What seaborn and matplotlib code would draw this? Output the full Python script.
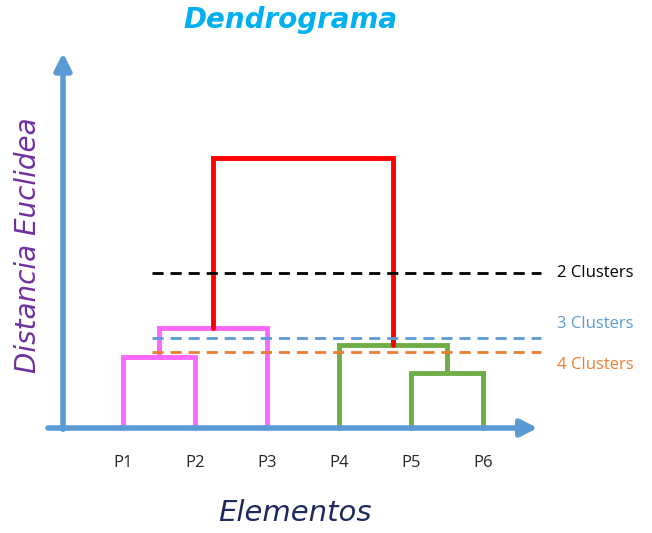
import matplotlib
matplotlib.use("Agg")
import matplotlib.pyplot as plt
import seaborn as sns

# leaves and merge heights (distance)
leaves = ["P1", "P2", "P3", "P4", "P5", "P6"]
leaf_x = [1, 2, 3, 4, 5, 6]
h_p1p2 = 71
h_pink = 100
h_p5p6 = 55
h_green = 83
h_red = 270
cuts = [("2 Clusters", 155, "black", 155), ("3 Clusters", 90, "#5b9bd5", 104),
        ("4 Clusters", 76, "#ed7d31", 63)]

sns.set_style("white")
fig = plt.figure(figsize=(6.52, 5.33), dpi=100)
ax = fig.add_axes([0, 0, 1, 1])
ax.set_xlim(-0.708, 8.347)
ax.set_ylim(-105, 428)
ax.axis("off")

def link(xa, ha, xb, hb, h, color):
    ax.plot([xa, xa, xb, xb], [ha, h, h, hb], color=color, lw=3.5, solid_joinstyle="miter")

pink, green, red = "#ff66ff", "#70ad47", "#ff0000"
link(leaf_x[0], 0, leaf_x[1], 0, h_p1p2, pink)
m12 = (leaf_x[0] + leaf_x[1]) / 2
link(m12, h_p1p2, leaf_x[2], 0, h_pink, pink)
link(leaf_x[4], 0, leaf_x[5], 0, h_p5p6, green)
m56 = (leaf_x[4] + leaf_x[5]) / 2
link(leaf_x[3], 0, m56, h_p5p6, h_green, green)
link((m12 + leaf_x[2]) / 2, h_pink, (leaf_x[3] + m56) / 2, h_green, h_red, red)

for lab, h, c, ht in cuts:
    ax.plot([1.4, 6.8], [h, h], color=c, lw=2, ls=(0, (4, 2.5)))
    ax.text(7.03, ht, lab, color=c, fontsize=12, va="center", family="Open Sans")

axc = "#5b9bd5"
ax.annotate("", xy=(0.167, 378), xytext=(0.167, -4),
            arrowprops=dict(arrowstyle="-|>,head_width=0.5,head_length=1", color=axc, lw=4))
ax.annotate("", xy=(6.8, 0), xytext=(-0.08, 0),
            arrowprops=dict(arrowstyle="-|>,head_width=0.5,head_length=1", color=axc, lw=4))

for x, lab in zip(leaf_x, leaves):
    ax.text(x, -35, lab, ha="center", va="center", fontsize=12, family="Open Sans")

fig.text(290 / 652, 1 - 20 / 533, "Dendrograma", ha="center", va="center",
         fontsize=20, style="italic", weight="bold", color="#00b0f0")
fig.text(295 / 652, 1 - 513 / 533, "Elementos", ha="center", va="center",
         fontsize=21, style="italic", color="#1f2a5c")
fig.text(28 / 652, 1 - 245 / 533, "Distancia Euclidea", ha="center", va="center",
         rotation=90, fontsize=20, style="italic", color="#7030a0")

fig.savefig("out.png", dpi=100)
